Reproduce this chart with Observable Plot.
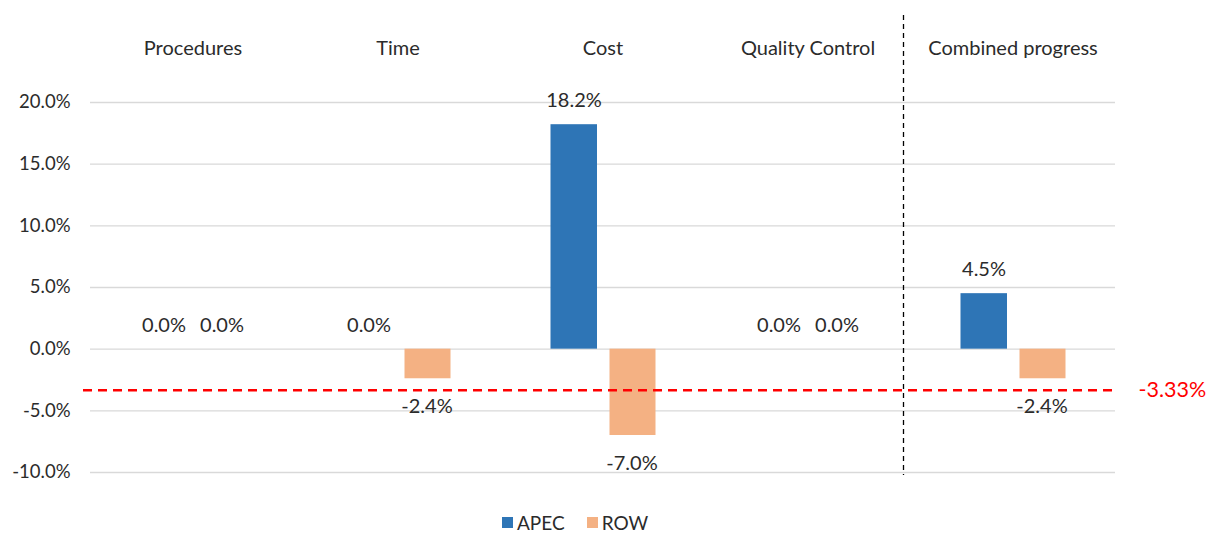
<!DOCTYPE html>
<html>
<head>
<meta charset="utf-8">
<script src="https://cdn.jsdelivr.net/npm/d3@7"></script>
<script src="https://cdn.jsdelivr.net/npm/@observablehq/plot@0.6"></script>
<style>
  body { margin: 0; background: #fff; font-family: Lato, "Open Sans", sans-serif; }
  #wrap { position: relative; width: 1209px; height: 533px; }
  #legend { position: absolute; left: 502px; top: 511px; display: flex; align-items: center; font-size: 19px; color: #2b2b2b; }
  #legend .sw { width: 11px; height: 11px; display: inline-block; margin-right: 4px; }
  #legend .item { display: flex; align-items: center; margin-right: 22px; }
</style>
</head>
<body>
<div id="wrap"></div>
<script>
const categories = ["Procedures", "Time", "Cost", "Quality Control", "Combined progress"];
const apec = [0.0, 0.0, 18.2, 0.0, 4.5];
const row = [0.0, -2.4, -7.0, 0.0, -2.4];
const series = ["APEC", "ROW"];
const colors = ["#2E75B6", "#F4B183"];
const yTicks = [-10, -5, 0, 5, 10, 15, 20];
const average = -3.33;
const dividerBefore = "Combined progress";

const apecData = categories.map((c, i) => ({category: c, series: "APEC", value: apec[i]}));
const rowData = categories.map((c, i) => ({category: c, series: "ROW", value: row[i]}));
const fmt = v => v.toFixed(1) + "%";
const textColor = "#2b2b2b";

function labels(data, dx) {
  return [
    Plot.text(data.filter(d => d.value >= 0), {x: "category", y: "value", text: d => fmt(d.value), dx, dy: -24, fontSize: 20, fill: textColor}),
    Plot.text(data.filter(d => d.value < 0), {x: "category", y: "value", text: d => fmt(d.value), dx, dy: 28, fontSize: 20, fill: textColor})
  ];
}

const chart = Plot.plot({
  width: 1209,
  height: 505,
  marginLeft: 90,
  marginRight: 94,
  marginTop: 102,
  marginBottom: 33,
  style: {fontFamily: "Lato, 'Open Sans', sans-serif", fontSize: "18px", color: textColor, background: "#fff"},
  x: {domain: categories, padding: 0, axis: null},
  y: {domain: [-10, 20], ticks: yTicks, axis: null},
  color: {domain: series, range: colors},
  marks: [
    Plot.gridY(yTicks, {stroke: "#d9d9d9", strokeOpacity: 1, strokeWidth: 1.3}),
    Plot.axisY(yTicks, {tickSize: 0, tickPadding: 20, tickFormat: fmt, fontSize: 18.5, fill: textColor, label: null}),
    Plot.axisX({anchor: "top", tickSize: 0, tickPadding: 48, fontSize: 20, fill: textColor, label: null}),
    Plot.barY(apecData, {x: "category", y: "value", fill: "series", insetLeft: 50.5, insetRight: 108}),
    Plot.barY(rowData, {x: "category", y: "value", fill: "series", insetLeft: 109.5, insetRight: 49.5}),
    ...labels(apecData, -29),
    ...labels(rowData, 29),
    Plot.ruleX([dividerBefore], {x: d => d, dx: -109.5, stroke: "#000", strokeWidth: 1.3, strokeDasharray: "5,4", insetTop: -87, insetBottom: -3}),
    Plot.ruleY([average], {stroke: "#FF0000", strokeWidth: 2.5, strokeDasharray: "9,6", insetLeft: -7, insetRight: -3}),
    Plot.text([average], {y: d => d, text: d => d.toFixed(2) + "%", frameAnchor: "right", textAnchor: "start", dx: 23, fontSize: 21.5, fill: "#FF0000"})
  ]
});
document.getElementById("wrap").appendChild(chart);

const legend = document.createElement("div");
legend.id = "legend";
series.forEach((s, i) => {
  const item = document.createElement("span");
  item.className = "item";
  const sw = document.createElement("span");
  sw.className = "sw";
  sw.style.background = colors[i];
  item.appendChild(sw);
  item.appendChild(document.createTextNode(s));
  legend.appendChild(item);
});
document.getElementById("wrap").appendChild(legend);
</script>
</body>
</html>
